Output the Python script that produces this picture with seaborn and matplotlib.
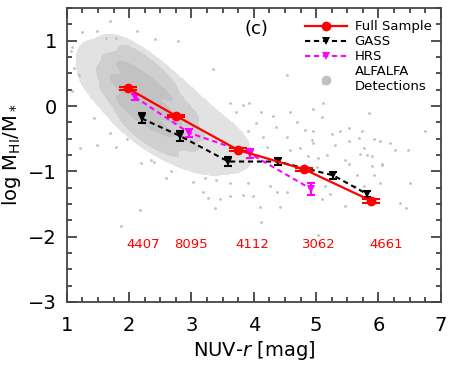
import matplotlib
matplotlib.use("Agg")
import matplotlib.pyplot as plt
from matplotlib.lines import Line2D
from matplotlib.colors import ListedColormap
import numpy as np
import pandas as pd
import seaborn as sns

# --- full sample (red) ---
full_x = [1.98, 2.75, 3.74, 4.81, 5.88]
full_y = [0.27, -0.15, -0.67, -0.97, -1.45]
full_err = [0.02, 0.02, 0.02, 0.02, 0.03]
full_n = ["4407", "8095", "4112", "3062", "4661"]
count_x = [2.22, 2.99, 3.98, 5.05, 6.13]
count_y = -2.12

# --- GASS (black) ---
gass_x = [2.20, 2.82, 3.59, 4.38, 5.27, 5.82]
gass_y = [-0.19, -0.46, -0.85, -0.85, -1.06, -1.35]
gass_err = [0.076, 0.075, 0.065, 0.05, 0.05, 0.045]

# --- HRS (magenta) ---
hrs_x = [2.09, 2.96, 3.94, 4.92]
hrs_y = [0.14, -0.41, -0.73, -1.27]
hrs_err = [0.045, 0.06, 0.07, 0.095]

# --- ALFALFA dense core: ridge of the cloud ---
ridge_x = [1.25, 1.5, 1.75, 2.0, 2.25, 2.5, 2.75, 3.0, 3.25, 3.5, 3.75, 4.0, 4.5]
ridge_y = [0.62, 0.52, 0.42, 0.28, 0.10, -0.05, -0.22, -0.36, -0.50, -0.60, -0.68, -0.75, -0.85]
ridge_w = [1.5, 3.5, 6, 9, 9, 8, 6.5, 5, 3.5, 2.5, 1.8, 1.0, 0.4]
ridge_half = [0.30, 0.38, 0.50, 0.58, 0.60, 0.58, 0.55, 0.50, 0.45, 0.40, 0.35, 0.30, 0.25]
across = [-1.0, -0.5, 0.0, 0.5, 1.0]          # fraction of the half width
across_w = [0.7, 0.9, 1.0, 0.9, 0.7]

# scattered detections outside the core
dots_x = [1.69, 1.49, 2.12, 2.42, 1.24, 2.78, 1.63, 1.79, 1.08, 1.06, 1.12, 1.09, 1.19,
          1.44, 1.21, 1.48, 1.70, 1.79, 2.19, 2.17, 1.87, 2.59, 2.35, 2.40, 2.67, 1.97,
          4.54, 3.35, 3.93, 4.58, 4.12, 4.30, 4.69, 3.83, 3.62, 3.72, 4.04, 4.35, 4.82,
          4.93, 4.53, 4.15, 3.91, 4.21, 4.58, 4.87, 4.74,
          5.11, 5.11, 5.84, 5.09, 4.95, 6.75, 5.25, 5.38, 5.53, 5.73, 5.92, 6.02, 6.18,
          6.26, 6.48, 5.68, 5.30, 5.53, 5.76, 5.70, 5.81, 5.89, 5.03, 5.46, 6.05, 5.17,
          4.95, 4.95,
          5.52, 5.89, 6.05, 5.65, 5.92, 6.02, 6.51, 5.14, 5.62, 5.76, 5.23, 5.09, 5.46,
          6.35, 6.44, 5.03, 5.01,
          3.19, 3.27, 3.38, 3.46, 3.61, 3.83, 3.99, 4.10, 4.42, 4.11, 4.53, 4.37, 3.62,
          3.03, 3.22, 3.40, 3.91, 4.26]
dots_y = [1.30, 1.15, 1.15, 1.03, 1.13, 0.99, 1.04, 1.04, 0.91, 0.84, 0.58, 0.23, 0.48,
          -0.19, -0.65, -0.60, -0.42, -0.63, -0.87, -1.59, -1.84, -1.10, -0.82, -0.85, -1.00, -0.51,
          0.48, 0.56, 0.05, -0.09, -0.09, -0.16, -0.24, 0.02, 0.04, -0.09, -0.26, -0.32, -0.37,
          -0.52, -0.47, -0.47, -0.39, -0.62, -0.67, -0.77, -0.65,
          0.35, 0.05, -0.11, -0.17, -0.04, -0.39, -0.43, -0.39, -0.34, -0.38, -0.51, -0.53, -0.56,
          -0.67, -0.67, -0.49, -0.60, -0.54, -0.65, -0.73, -0.75, -0.77, -0.80, -0.82, -0.89, -0.75,
          -0.39, -0.57,
          -0.89, -0.92, -0.90, -1.05, -1.05, -1.18, -1.18, -1.23, -1.22, -1.23, -1.34, -1.42, -1.53,
          -1.48, -1.56, -1.98, -0.94,
          -1.31, -1.41, -1.56, -1.42, -1.38, -1.36, -1.38, -1.54, -1.54, -1.77, -1.31, -1.31, -1.18,
          -1.16, -1.10, -1.13, -1.18, -1.23]

plt.rcParams["font.family"] = ["DejaVu Sans"]
fig, ax = plt.subplots(figsize=(4.74, 3.66), dpi=100)
plt.subplots_adjust(left=0.141, right=0.930, top=0.978, bottom=0.175)

grey = "#c0c0c0"
# anchor table: each ridge column spread across its half width
rows = [(x, y + f * h, w * fw)
        for x, y, w, h in zip(ridge_x, ridge_y, ridge_w, ridge_half)
        for f, fw in zip(across, across_w)]
cloud = pd.DataFrame(rows, columns=["x", "y", "w"])
sns.kdeplot(data=cloud, x="x", y="y", weights="w", fill=True,
            cmap=ListedColormap(["#e2e2e2", "#cfcfcf", "#c2c2c2"]),
            levels=[0.09, 0.38, 0.72, 1.0], bw_adjust=0.6, ax=ax, zorder=1)
sns.scatterplot(x=dots_x, y=dots_y, color=grey, s=4, linewidth=0, ax=ax, zorder=2)

# series
sns.lineplot(x=full_x, y=full_y, color="red", lw=1.6, marker="o", ms=7,
             markeredgewidth=0, sort=False, ax=ax, zorder=6)
ax.errorbar(full_x, full_y, yerr=full_err, fmt="none", ecolor="red",
            elinewidth=1.5, capsize=6.5, capthick=1.5, zorder=6)
sns.lineplot(x=gass_x, y=gass_y, color="black", lw=1.5, ls=(0, (2.5, 1.8)), marker="v",
             ms=5.5, markeredgewidth=0, sort=False, ax=ax, zorder=5)
ax.errorbar(gass_x, gass_y, yerr=gass_err, fmt="none", ecolor="black",
            elinewidth=1.5, capsize=3, capthick=1.5, zorder=5)
sns.lineplot(x=hrs_x, y=hrs_y, color="magenta", lw=1.5, ls=(0, (2.5, 1.8)), marker="v",
             ms=5.5, markeredgewidth=0, sort=False, ax=ax, zorder=5)
ax.errorbar(hrs_x, hrs_y, yerr=hrs_err, fmt="none", ecolor="magenta",
            elinewidth=1.5, capsize=3, capthick=1.5, zorder=5)

for xc, n in zip(count_x, full_n):
    ax.text(xc, count_y, n, color="red", fontsize=9.5, ha="center", va="center")
ax.text(4.04, 1.18, "(c)", fontsize=13, ha="center", va="center")

ax.set_xlim(1, 7)
ax.set_ylim(-3, 1.5)
ax.set_xticks([1, 2, 3, 4, 5, 6, 7])
ax.set_yticks([-3, -2, -1, 0, 1])
ax.set_xticks(np.arange(1, 7.01, 0.25), minor=True)
ax.set_yticks(np.arange(-3, 1.51, 0.25), minor=True)
ax.tick_params(which="both", direction="in", top=True, right=True, labelsize=14,
               color="#333333", width=1.2)
ax.tick_params(which="major", length=7, pad=7)
ax.tick_params(axis="x", which="major", pad=10)
ax.tick_params(which="minor", length=3.5)
for s in ax.spines.values():
    s.set_linewidth(1.3)
    s.set_color("#444444")
ax.set_xlabel(r"NUV-$r$ [mag]", fontsize=14, labelpad=3)
ax.set_ylabel(r"log M$_{\rm HI}$/M$_*$", fontsize=14)

handles = [
    Line2D([], [], color="red", lw=1.6, marker="o", ms=7, markeredgewidth=0),
    Line2D([], [], color="black", lw=1.5, ls=(0, (2.5, 1.8)), marker="v", ms=5.5, markeredgewidth=0),
    Line2D([], [], color="magenta", lw=1.5, ls=(0, (2.5, 1.8)), marker="v", ms=5.5, markeredgewidth=0),
    Line2D([], [], color=grey, lw=0, marker="o", ms=7, markeredgewidth=0),
]
labels = ["Full Sample", "GASS", "HRS", "ALFALFA\nDetections"]
ax.legend(handles, labels, loc="upper right", frameon=False, fontsize=9.5,
          handlelength=3.2, labelspacing=0.15, handletextpad=0.6,
          bbox_to_anchor=(1.0, 0.99), borderaxespad=0.3)

plt.savefig("out.png", dpi=100)
